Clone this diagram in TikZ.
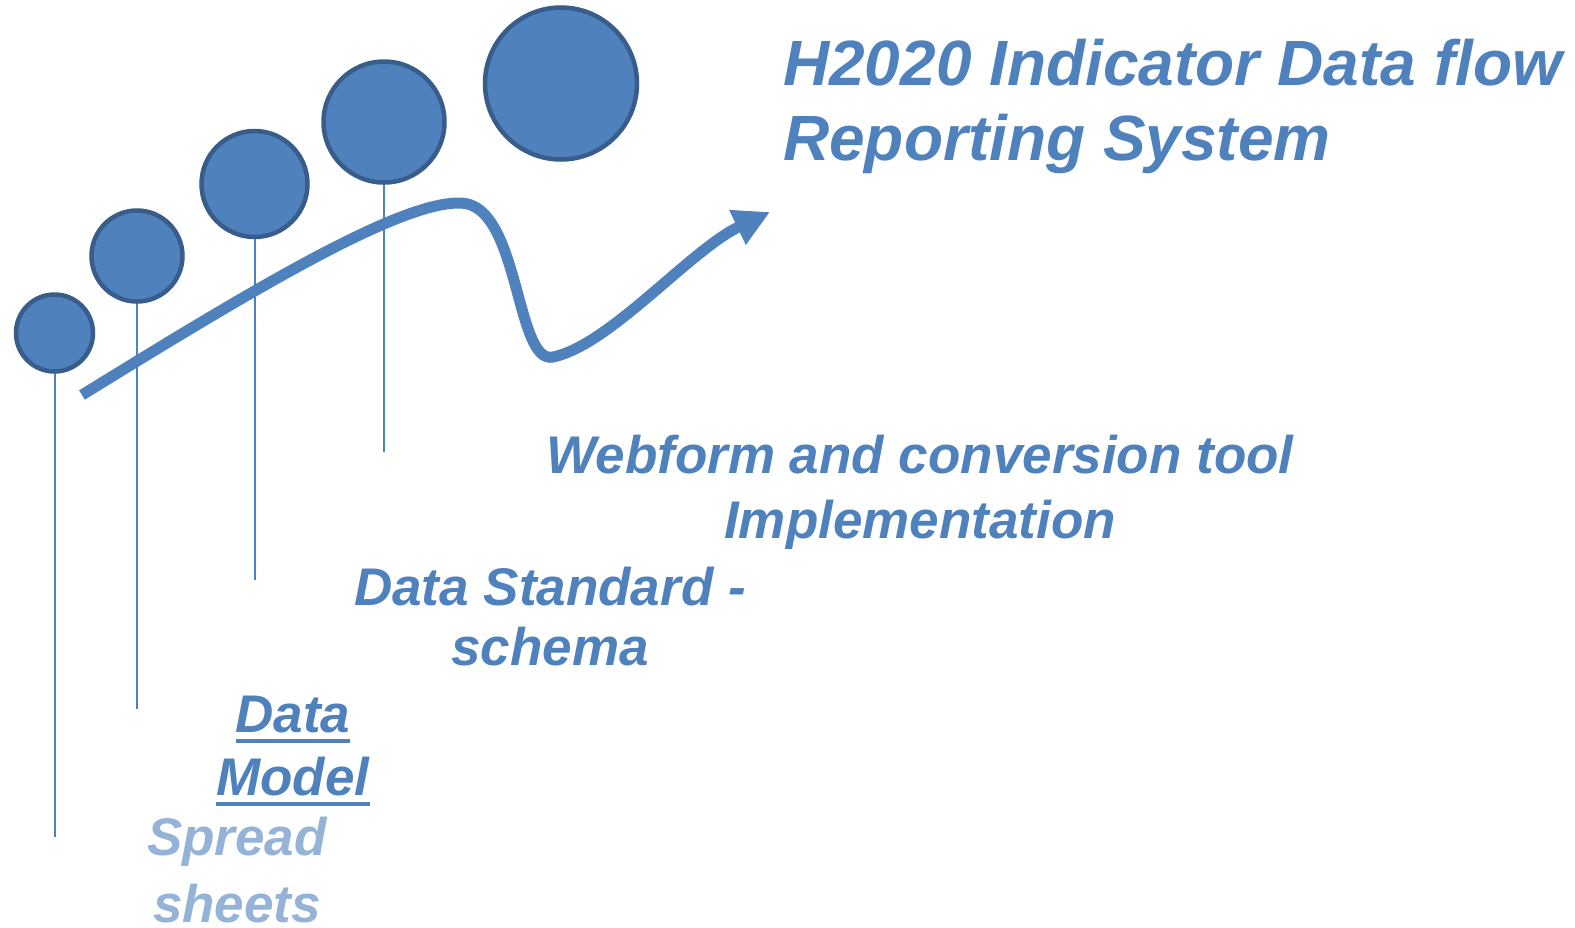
\documentclass[tikz,border=0pt]{standalone}
\usepackage{fontspec}
\setmainfont{Liberation Sans}
\usetikzlibrary{arrows.meta}
\definecolor{OfficeBlue}{HTML}{4F81BD}
\definecolor{OfficeDark}{HTML}{385D8A}
\definecolor{OfficeLight}{HTML}{95B3D7}
\newcommand{\ulword}[1]{\setbox0\hbox{#1}\rlap{\rule[-11pt]{\wd0}{4pt}}\box0}

\begin{document}
\begin{tikzpicture}[x=1pt, y=-1pt,
    milestone/.style={circle, fill=OfficeBlue, draw=OfficeDark, line width=4.5pt, inner sep=0pt},
    stem/.style={OfficeBlue, line width=2pt},
    label/.style={OfficeBlue, font=\bfseries\itshape\fontsize{53}{64}\selectfont, align=center, anchor=base, inner sep=0pt}]
    \useasboundingbox (0,0) rectangle (1575,927);

    % Stems
    \coordinate (e1) at (54.5,837);
    \coordinate (e2) at (137,709);
    \coordinate (e3) at (254.5,580);
    \coordinate (e4) at (384,452);
    \draw[stem] (54.5,333) -- (e1);
    \draw[stem] (137,256) -- (e2);
    \draw[stem] (254.5,184) -- (e3);
    \draw[stem] (384,122) -- (e4);

    % Milestones
    \node[milestone, minimum size=77pt] (c1) at (54.5,333) {};
    \node[milestone, minimum size=91pt] (c2) at (137,256) {};
    \node[milestone, minimum size=106pt] (c3) at (254.5,184) {};
    \node[milestone, minimum size=121pt] (c4) at (384,122) {};
    \node[milestone, minimum size=152pt] (c5) at (561,83.5) {};

    % Progress arrow
    \draw[OfficeBlue, line width=11pt, -{Triangle[length=36pt, width=36pt]}]
        (82,395) .. controls (260,285) and (400,202) .. (460,203)
        .. controls (520,203) and (515,365) .. (553,357)
        .. controls (610,345) and (690,250) .. (770,212);

    % Title (anchored at the last line)
    \node[label, anchor=base west, align=left, font=\bfseries\itshape\fontsize{64}{75}\selectfont] (title) at (783,160)
        {H2020 Indicator Data flow\\Reporting System};

    % Stages
    \node[label, font=\bfseries\itshape\fontsize{53}{65}\selectfont] (webform) at (920,538)
        {Webform and conversion tool\\Implementation};
    \node[label, font=\bfseries\itshape\fontsize{53}{60}\selectfont] (standard) at (550,665)
        {Data Standard -\\schema};
    \node[label, font=\bfseries\itshape\fontsize{53}{63}\selectfont] (model) at (293,795)
        {\ulword{Data}\\\ulword{Model}};
    \node[label, OfficeLight, font=\bfseries\itshape\fontsize{53}{67}\selectfont] (sheets) at (237,922)
        {Spread\\sheets};
\end{tikzpicture}
\end{document}
